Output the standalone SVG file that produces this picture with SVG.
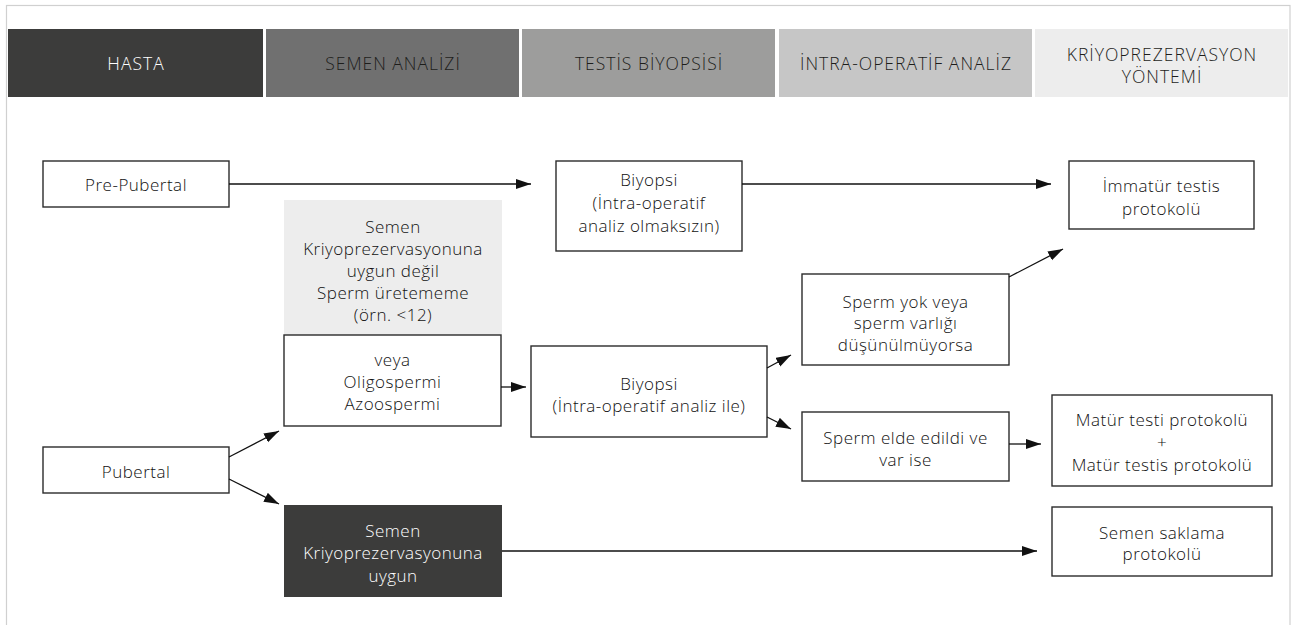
<svg xmlns="http://www.w3.org/2000/svg" width="1291" height="625" viewBox="0 0 1291 625">
<defs>
<style>
text{font-family:"Open Sans","Noto Sans","DejaVu Sans",sans-serif;font-weight:300;text-anchor:middle;dominant-baseline:central;}
.h{font-size:17.5px;letter-spacing:1px;fill:#1d1d1b;}
.hw{fill:#ffffff;}
.t{font-size:17px;letter-spacing:0.5px;fill:#111111;}
.tw{fill:#ffffff;}
.box{fill:#ffffff;stroke:#2b2b2b;stroke-width:1.4;}
.conn line{stroke:#111111;stroke-width:1.3;fill:none;marker-end:url(#arr);}
</style>
<marker id="arr" markerUnits="userSpaceOnUse" markerWidth="16" markerHeight="12" refX="15" refY="5" orient="auto">
<path d="M0,0 L15,5 L0,10 Z" fill="#111111"/>
</marker>
</defs>
<rect x="0" y="0" width="1291" height="625" fill="#ffffff"/>
<rect x="6.5" y="5.5" width="1283.5" height="700" fill="none" stroke="#d0d0d0" stroke-width="1.2"/>

<g id="header">
<g id="h-hasta"><rect x="8" y="29" width="255" height="68" fill="#3c3c3b"/><text class="h hw" x="136" y="63">HASTA</text></g>
<g id="h-semen"><rect x="266" y="29" width="253" height="68" fill="#707070"/><text class="h" x="393" y="63">SEMEN ANALİZİ</text></g>
<g id="h-testis"><rect x="522" y="29" width="253" height="68" fill="#9d9d9c"/><text class="h" x="649" y="63">TESTİS BİYOPSİSİ</text></g>
<g id="h-intra"><rect x="779" y="29" width="253" height="68" fill="#c6c6c6"/><text class="h" x="906" y="63">İNTRA-OPERATİF ANALİZ</text></g>
<g id="h-kriyo"><rect x="1035" y="29" width="253" height="68" fill="#ededed"/><text class="h" x="1162" y="54">KRİYOPREZERVASYON</text><text class="h" x="1162" y="76">YÖNTEMİ</text></g>
</g>

<g id="prepubertal"><rect class="box" x="43" y="161" width="186" height="46"/><text class="t" x="136" y="184">Pre-Pubertal</text></g>

<g id="biyopsi-top"><rect class="box" x="556" y="161" width="186" height="90"/>
<text class="t" x="649" y="179">Biyopsi</text><text class="t" x="649" y="202">(İntra-operatif</text><text class="t" x="649" y="225">analiz olmaksızın)</text></g>

<g id="immatur"><rect class="box" x="1069" y="161" width="185" height="68"/>
<text class="t" x="1161.5" y="185">İmmatür testis</text><text class="t" x="1161.5" y="208">protokolü</text></g>

<g id="uygun-degil"><rect x="284" y="200" width="218" height="135" fill="#ededed"/>
<text class="t" x="393" y="226">Semen</text><text class="t" x="393" y="248">Kriyoprezervasyonuna</text><text class="t" x="393" y="270">uygun değil</text><text class="t" x="393" y="292">Sperm üretememe</text><text class="t" x="393" y="314">(örn. &lt;12)</text></g>

<g id="oligo"><rect class="box" x="284" y="335" width="217" height="91"/>
<text class="t" x="392.5" y="359">veya</text><text class="t" x="392.5" y="381">Oligospermi</text><text class="t" x="392.5" y="403">Azoospermi</text></g>

<g id="biyopsi-mid"><rect class="box" x="531" y="346" width="236" height="91"/>
<text class="t" x="649" y="383">Biyopsi</text><text class="t" x="649" y="405">(İntra-operatif analiz ile)</text></g>

<g id="sperm-yok"><rect class="box" x="802" y="274" width="207" height="91"/>
<text class="t" x="905.5" y="301">Sperm yok veya</text><text class="t" x="905.5" y="322">sperm varlığı</text><text class="t" x="905.5" y="344">düşünülmüyorsa</text></g>

<g id="sperm-elde"><rect class="box" x="802" y="412" width="207" height="69"/>
<text class="t" x="905.5" y="437">Sperm elde edildi ve</text><text class="t" x="905.5" y="459">var ise</text></g>

<g id="matur"><rect class="box" x="1052" y="395" width="220" height="91"/>
<text class="t" x="1162" y="419">Matür testi protokolü</text><text class="t" x="1162" y="441">+</text><text class="t" x="1162" y="464">Matür testis protokolü</text></g>

<g id="pubertal"><rect class="box" x="43" y="447" width="186" height="46"/><text class="t" x="136" y="471">Pubertal</text></g>

<g id="uygun"><rect x="284" y="505" width="218" height="92" fill="#3c3c3b"/>
<text class="t tw" x="393" y="530">Semen</text><text class="t tw" x="393" y="552">Kriyoprezervasyonuna</text><text class="t tw" x="393" y="575">uygun</text></g>

<g id="semen-saklama"><rect class="box" x="1052" y="507" width="220" height="69"/>
<text class="t" x="1162" y="532">Semen saklama</text><text class="t" x="1162" y="553">protokolü</text></g>

<g id="connectors" class="conn">
<line x1="229" y1="184" x2="531" y2="184"/>
<line x1="742" y1="184" x2="1051" y2="184"/>
<line x1="1009" y1="277" x2="1063" y2="249"/>
<line x1="229" y1="457" x2="279" y2="431"/>
<line x1="229" y1="479" x2="279" y2="504"/>
<line x1="501" y1="387" x2="526" y2="387"/>
<line x1="767" y1="368" x2="791" y2="355"/>
<line x1="767" y1="417" x2="791" y2="429"/>
<line x1="1009" y1="444" x2="1041" y2="444"/>
<line x1="502" y1="551" x2="1037" y2="551"/>
</g>
</svg>
